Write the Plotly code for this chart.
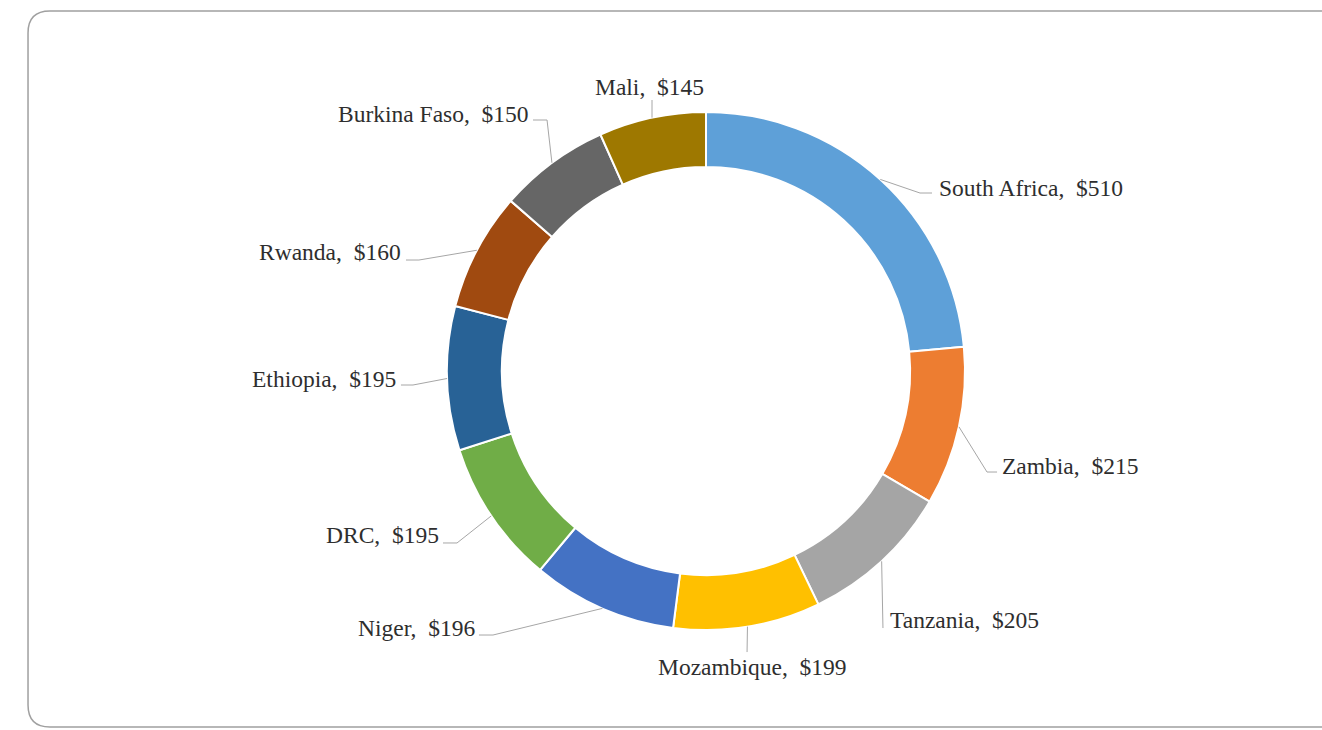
import plotly.graph_objects as go
import math

countries = ["South Africa", "Zambia", "Tanzania", "Mozambique", "Niger",
             "DRC", "Ethiopia", "Rwanda", "Burkina Faso", "Mali"]
values = [510, 215, 205, 199, 196, 195, 195, 160, 150, 145]
colors = ["#5EA0D8", "#ED7D31", "#A5A5A5", "#FFC000", "#4472C4",
          "#70AD47", "#286296", "#A04A10", "#666666", "#9E7800"]

W, H = 1322, 730
cx, cy, R = 706, 371, 259   # donut centre / outer radius in pixels
hole = 0.788

# label layout: (x, y, xanchor, line end point, elbow point) in pixels
label_pos = {
    "South Africa": (937, 188, "left", (932, 193), (920, 193)),
    "Zambia": (1000, 466, "left", (997, 472), (987, 472)),
    "Tanzania": (888, 620, "left", (883, 628), None),
    "Mozambique": (752, 667, "center", (747, 652), None),
    "Niger": (477, 628, "right", (479, 635), (493, 635)),
    "DRC": (441, 535, "right", (443, 543), (457, 543)),
    "Ethiopia": (398, 379, "right", (401, 385), (413, 385)),
    "Rwanda": (403, 252, "right", (406, 260), (419, 260)),
    "Burkina Faso": (531, 114, "right", (533, 120), (547, 120)),
    "Mali": (649, 87, "center", (652, 100), None),
}


def px(x, y):
    return x / W, 1 - y / H


fig = go.Figure()
fig.add_trace(go.Pie(
    labels=countries, values=values, hole=hole, sort=False,
    direction="clockwise", rotation=0,
    marker=dict(colors=colors, line=dict(color="white", width=2)),
    textinfo="none", hoverinfo="label+value", showlegend=False,
    domain=dict(x=[(cx - R) / W, (cx + R) / W], y=[1 - (cy + R) / H, 1 - (cy - R) / H]),
))

total = sum(values)
cum = 0
annotations = []
shapes = []
for name, v in zip(countries, values):
    mid = (cum + v / 2) / total * 2 * math.pi
    cum += v
    ax = cx + R * math.sin(mid)
    ay = cy - R * math.cos(mid)
    x, y, anchor, end, elbow = label_pos[name]
    pts = [(ax, ay)] + ([elbow] if elbow else []) + [end]
    path = "M " + " L ".join("%.4f,%.4f" % px(*p) for p in pts)
    shapes.append(dict(type="path", path=path, xref="paper", yref="paper",
                       line=dict(color="#A6A6A6", width=1)))
    tx, ty = px(x, y)
    annotations.append(dict(
        text="%s, \u00a0$%d" % (name, v), x=tx, y=ty, xref="paper", yref="paper",
        xanchor=anchor, yanchor="middle", showarrow=False,
        font=dict(family="Liberation Serif", size=23.5, color="#2E2E2E"),
    ))

# rounded frame around the chart (runs off the right edge)
r = 22
x0, y0, x1, y1 = 28, 11, 1340, 727
frame = [
    "M %.4f,%.4f" % px(x1, y0),
    "L %.4f,%.4f" % px(x0 + r, y0),
    "Q %.4f,%.4f %.4f,%.4f" % (*px(x0, y0), *px(x0, y0 + r)),
    "L %.4f,%.4f" % px(x0, y1 - r),
    "Q %.4f,%.4f %.4f,%.4f" % (*px(x0, y1), *px(x0 + r, y1)),
    "L %.4f,%.4f" % px(x1, y1),
]
shapes.append(dict(type="path", path=" ".join(frame), xref="paper", yref="paper",
                   line=dict(color="#A0A0A0", width=1.5)))

fig.update_layout(
    width=W, height=H, margin=dict(l=0, r=0, t=0, b=0),
    paper_bgcolor="white", plot_bgcolor="white",
    annotations=annotations, shapes=shapes,
)

fig.write_html("out.html", config={"displayModeBar": False},
               post_script="document.body.style.margin='0';")
